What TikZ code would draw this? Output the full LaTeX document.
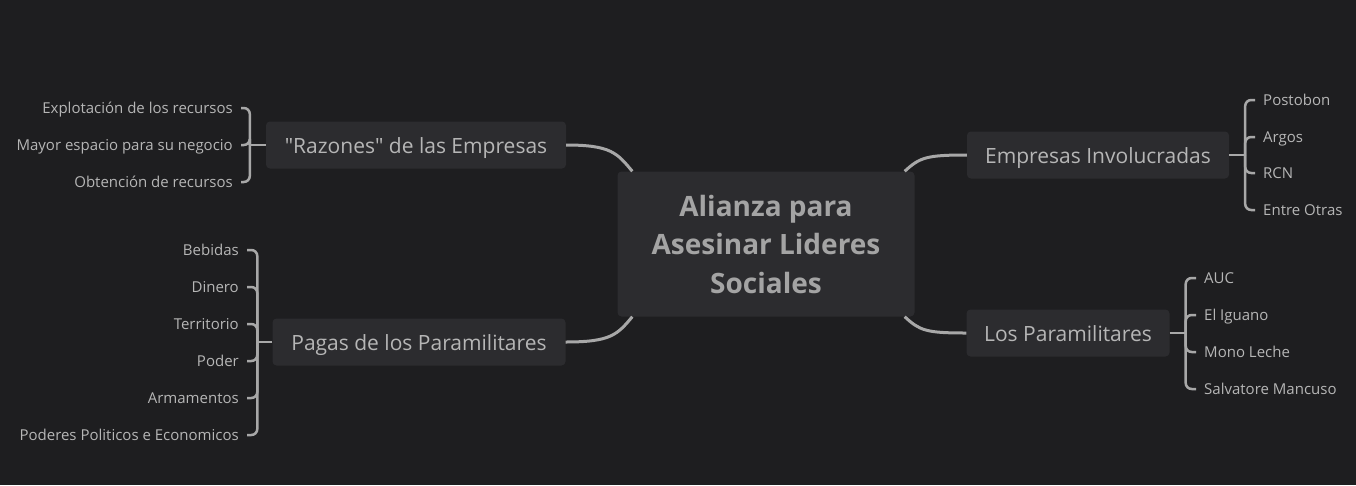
\documentclass[tikz,border=0pt]{standalone}
\usepackage{fontspec}
\setmainfont{Open Sans}[Ligatures=TeXOff]
\definecolor{bg}{HTML}{1E1E20}
\definecolor{boxfill}{HTML}{2C2C2F}
\definecolor{linegray}{HTML}{A8A8A8}
\definecolor{txt}{HTML}{B6B6B6}
\definecolor{maintxt}{HTML}{A4A4A4}
\tikzset{
	topic/.style={fill=boxfill, rounded corners=4pt, text=txt, minimum height=47pt, inner sep=0pt, text height=17pt, text depth=1pt, font=\fontsize{21}{25}\selectfont},
	leaf/.style={text=txt, inner xsep=8pt, inner ysep=0pt, text height=12pt, text depth=1pt, font=\fontsize{15}{18}\selectfont},
	branch/.style={draw=linegray, line width=3pt},
	bracket/.style={draw=linegray, line width=2.5pt, rounded corners=6pt}
}
\begin{document}
\begin{tikzpicture}[x=1pt,y=-1pt]
	\fill[bg] (0,0) rectangle (1356,485);
	\useasboundingbox (0,0) rectangle (1356,485);
	% central topic
	\node[topic, minimum width=297pt, minimum height=145pt, align=center, text=maintxt, text height=, text depth=, font=\fontsize{28}{38.5}\selectfont\bfseries] (main) at (766,244) {Alianza para\\Asesinar Lideres\\Sociales};
	% main topics
	\node[topic, minimum width=300pt] (raz) at (416,145) {"Razones" de las Empresas};
	\node[topic, minimum width=293pt] (pag) at (419,342) {Pagas de los Paramilitares};
	\node[topic, minimum width=262pt] (emp) at (1098,155) {Empresas Involucradas};
	\node[topic, minimum width=203pt] (par) at (1068,333) {Los Paramilitares};
	% branches
	\draw[branch] (raz.east) .. controls +(45,0) and +(-15,-18) .. ([xshift=15pt]main.north west);
	\draw[branch] (pag.east) .. controls +(45,0) and +(-15,18) .. ([xshift=15pt]main.south west);
	\draw[branch] (emp.west) .. controls +(-40,0) and +(15,-14) .. ([xshift=-10pt]main.north east);
	\draw[branch] (par.west) .. controls +(-40,0) and +(15,14) .. ([xshift=-10pt]main.south east);
	% subtopics
	\coordinate (razj) at ([xshift=-16pt]raz.west);
	\draw[branch, line width=2.5pt] (raz.west) -- (razj);
	\foreach \i/\y/\t in {1/108/Explotación de los recursos,2/145/Mayor espacio para su negocio,3/182/Obtención de recursos}
		{
			\node[leaf, anchor=east] (raz\i) at (241,\y) {\t};
			\draw[bracket] (razj) |- (raz\i.east);
		}
	\coordinate (pagj) at ([xshift=-15pt]pag.west);
	\draw[branch, line width=2.5pt] (pag.west) -- (pagj);
	\foreach \i/\y/\t in {1/250/Bebidas,2/287/Dinero,3/324/Territorio,4/361/Poder,5/398/Armamentos,6/435/Poderes Politicos e Economicos}
		{
			\node[leaf, anchor=east] (pag\i) at (247,\y) {\t};
			\draw[bracket] (pagj) |- (pag\i.east);
		}
	\coordinate (empj) at ([xshift=16pt]emp.east);
	\draw[branch, line width=2.5pt] (emp.east) -- (empj);
	\foreach \i/\y/\t in {1/100/Postobon,2/137/Argos,3/173/RCN,4/210/Entre Otras}
		{
			\node[leaf, anchor=west] (emp\i) at (1255,\y) {\t};
			\draw[bracket] (empj) |- (emp\i.west);
		}
	\coordinate (parj) at ([xshift=16pt]par.east);
	\draw[branch, line width=2.5pt] (par.east) -- (parj);
	\foreach \i/\y/\t in {1/278/AUC,2/315/El Iguano,3/352/Mono Leche,4/389/Salvatore Mancuso}
		{
			\node[leaf, anchor=west] (par\i) at (1196,\y) {\t};
			\draw[bracket] (parj) |- (par\i.west);
		}
\end{tikzpicture}
\end{document}
